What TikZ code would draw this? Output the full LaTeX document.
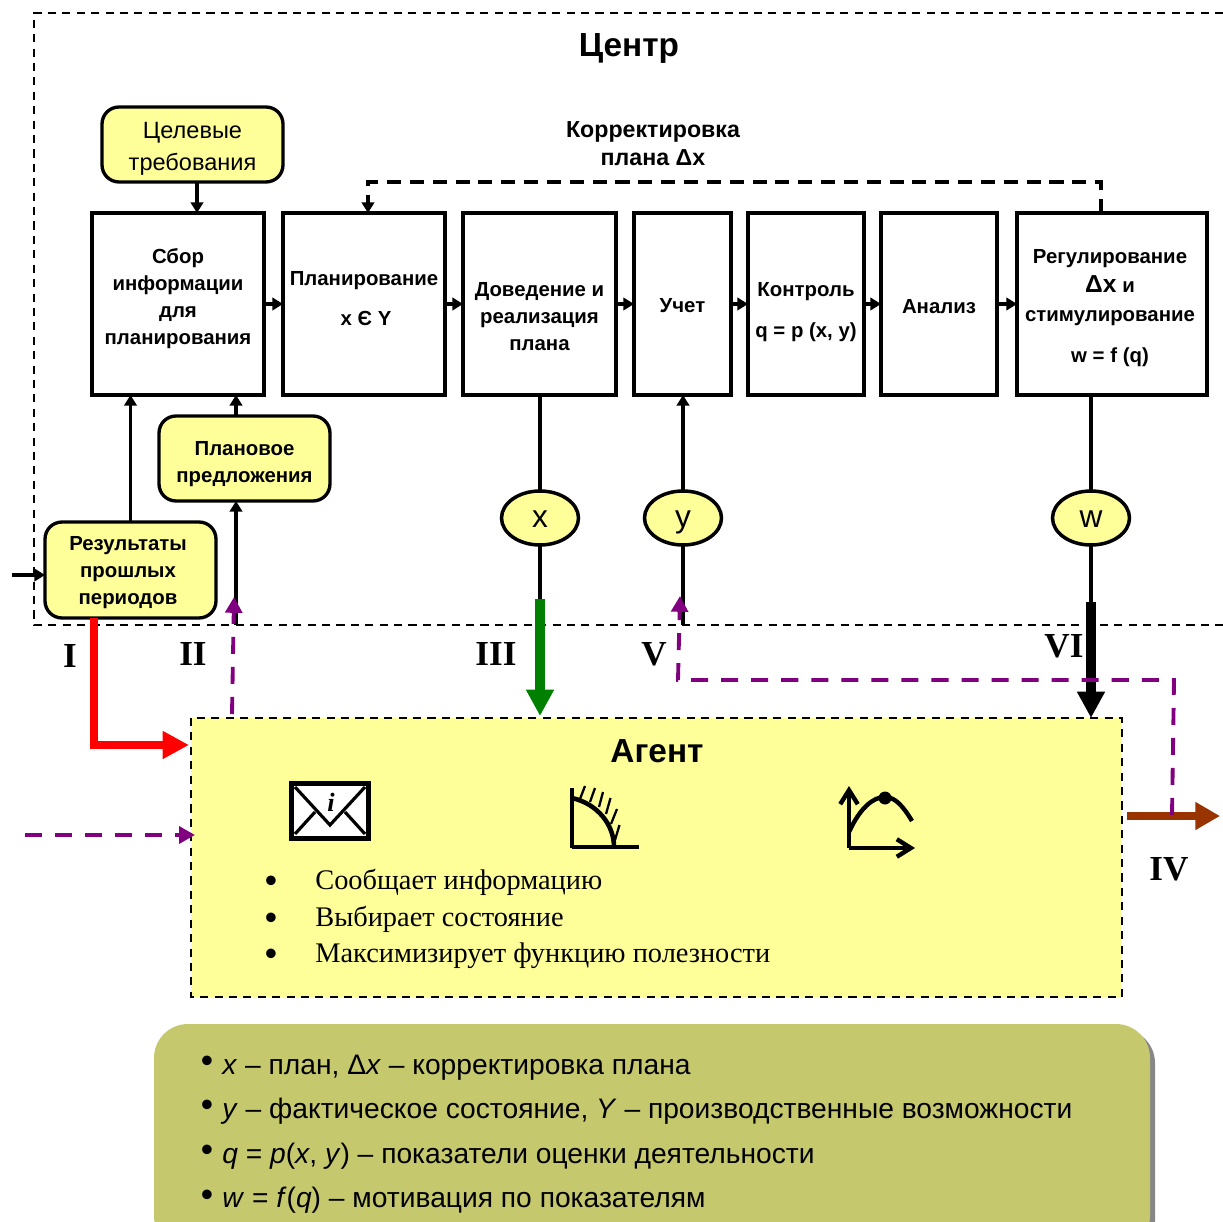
\documentclass[tikz,border=0pt]{standalone}
\usepackage{fontspec}
\setmainfont{Liberation Sans}
\newfontfamily\timesfont{Liberation Serif}
\usetikzlibrary{arrows.meta,calc,shapes.geometric}
\definecolor{boxyellow}{HTML}{FFFF99}
\definecolor{legendgreen}{HTML}{C6C86E}
\definecolor{arrowpurple}{HTML}{800080}
\definecolor{arrowbrown}{HTML}{993300}
\definecolor{arrowgreen}{HTML}{008000}
\tikzset{
	procbox/.style={draw, line width=1.85pt, inner sep=0, outer sep=0, minimum height=3.64cm},
	softbox/.style={draw, line width=1.9pt, rounded corners=0.34cm, fill=boxyellow, inner sep=0, outer sep=0},
	statenode/.style={draw, ellipse, line width=2pt, fill=boxyellow, inner sep=0, outer sep=0, minimum width=1.54cm, minimum height=1.08cm, text height=13pt, text depth=2pt, font=\fontsize{18}{20}\selectfont},
	boxtext/.style={align=center, inner sep=0, font=\bfseries\fontsize{11.6}{15.4}\selectfont},
	softtext/.style={align=center, inner sep=0, font=\fontsize{13.4}{18}\selectfont},
	romantext/.style={inner sep=0, font=\timesfont\bfseries\fontsize{20}{24}\selectfont},
	titletext/.style={inner sep=0, font=\bfseries\fontsize{19}{23}\selectfont},
	agenttext/.style={anchor=west, inner sep=0, font=\timesfont\fontsize{16.15}{20}\selectfont},
	legendtext/.style={anchor=west, inner sep=0, font=\fontsize{16.05}{20}\selectfont},
	dotmark/.style={inner sep=0, font=\fontsize{20}{20}\selectfont},
	frameline/.style={line width=1.1pt, dash pattern=on 4.6pt off 3.6pt},
	blackline/.style={line width=2pt},
	smallarrow/.style={blackline, -{Triangle[length=6pt,width=7pt]}},
	purplearrow/.style={line width=2.2pt, color=arrowpurple, dash pattern=on 9.7pt off 7.4pt, -{Triangle[length=9pt,width=9.5pt]}},
	bigarrow/.style={line width=5.2pt, -{Triangle[length=15pt,width=15pt]}}
}

\begin{document}
\begin{tikzpicture}[x=0.02cm, y=-0.02cm]
	\useasboundingbox (0, 0) rectangle (1223, 1222);
	
	%%%%% frames %%%%%
	\draw[frameline] (1223, 13) -- (34, 13) -- (34, 625) -- (1223, 625);
	\draw[frameline, fill=boxyellow] (191, 718) rectangle (1122, 997);
	
	\node[titletext] (center) at (629, 48) {Центр};
	\node[titletext] (agent) at (657, 751) {Агент};
	\node[boxtext, font=\bfseries\fontsize{13.2}{16}\selectfont] (correction) at (653, 144) {Корректировка\\плана Δx};
	
	%%%%% blocks %%%%%
	\node[softbox, minimum width=3.62cm, minimum height=1.5cm] (goals) at (192.5, 144.5) {};
	\node[softtext] (goalstext) at (192.5, 149) {Целевые\\требования};
	
	\node[procbox, minimum width=3.44cm] (collect) at (178, 304) {};
	\node[boxtext] (collecttext) at (178, 299) {Сбор\\информации\\для\\планирования};
	
	\node[procbox, minimum width=3.24cm] (plan) at (364, 304) {};
	\node[boxtext] (plantext) at (364, 298.5) {Планирование\\[7pt]\hspace*{2.3pt}x Є Y};
	
	\node[procbox, minimum width=3.06cm] (deliver) at (539.5, 304) {};
	\node[boxtext] (delivertext) at (539.5, 317) {Доведение и\\реализация\\плана};
	
	\node[procbox, minimum width=1.94cm] (account) at (682.5, 304) {};
	\node[boxtext] (accounttext) at (682.5, 306) {Учет};
	
	\node[procbox, minimum width=2.32cm] (control) at (806, 304) {};
	\node[boxtext] (controltext) at (806, 312) {Контроль\\[8pt]q = p (x, y)};
	
	\node[procbox, minimum width=2.32cm] (analysis) at (939, 304) {};
	\node[boxtext] (analysistext) at (939, 307) {Анализ};
	
	\node[procbox, minimum width=3.8cm] (regulate) at (1112, 304) {};
	\node[boxtext] (regulatetext) at (1110, 308) {Регулирование\\[1pt]{\fontsize{14}{16}\selectfont Δx} и\\[1pt]стимулирование\\[7.8pt]w = f (q)};
	
	\node[softbox, minimum width=3.42cm, minimum height=1.7cm] (offer) at (244.5, 458.5) {};
	\node[boxtext] (offertext) at (244.5, 464) {Плановое\\предложения};
	
	\node[softbox, minimum width=3.42cm, minimum height=1.92cm] (results) at (130.5, 570) {};
	\node[boxtext] (resultstext) at (128, 573) {Результаты\\прошлых\\периодов};
	
	\node[statenode] (statex) at (540, 518) {x};
	\node[statenode] (statey) at (683, 518) {y};
	\node[statenode] (statew) at (1091, 518) {w};
	
	%%%%% connectors %%%%%
	\draw[smallarrow] (collect) -- (plan);
	\draw[smallarrow] (plan) -- (deliver);
	\draw[smallarrow] (deliver) -- (account);
	\draw[smallarrow] (account) -- (control);
	\draw[smallarrow] (control) -- (analysis);
	\draw[smallarrow] (analysis) -- (regulate);
	\draw[smallarrow] ([xshift=0.09cm]goals.south) -- ([xshift=0.09cm]goals.south |- collect.north);
	\draw[smallarrow] (results.north) -- (results.north |- collect.south);
	\draw[smallarrow] ([xshift=-0.17cm]offer.north) -- ([xshift=-0.17cm]offer.north |- collect.south);
	
	\coordinate (offerfeed) at (236, 625);
	\draw[smallarrow] (offerfeed) -- (offerfeed |- offer.south);
	\coordinate (resultsfeed) at (12, 575);
	\draw[smallarrow] (resultsfeed) -- (resultsfeed -| results.west);
	
	\draw[line width=1.8pt, dash pattern=on 8pt off 5pt, -{Triangle[length=6pt,width=7pt]}] ([xshift=-0.22cm]regulate.north) |- (368, 182) -- (368, 213);
	
	\draw[blackline] (deliver.south -| statex) -- (statex);
	\draw[blackline] (statex) -- (540, 605);
	\draw[smallarrow] (statey) -- (statey |- account.south);
	\draw[blackline] (statey) -- (683, 625);
	\draw[blackline] (regulate.south -| statew) -- (statew);
	\draw[blackline] (statew) -- (1091, 605);
	
	%%%%% thick arrows %%%%%
	\draw[bigarrow, color=arrowgreen] (540, 599) -- (540, 716);
	\draw[bigarrow] (1091, 602) -- (1091, 718);
	\draw[line width=4.6pt, color=red, -{Triangle[length=15pt,width=15pt]}] (94, 618) -- (94, 745) -- (189, 745);
	\draw[line width=5pt, color=arrowbrown, -{Triangle[length=14pt,width=15pt]}] (1127, 816) -- (1220, 816);
	
	%%%%% dashed feedback %%%%%
	\draw[purplearrow] (232, 714) -- (234, 597);
	\draw[purplearrow] (1172, 815) -- (1174, 680) -- (678, 680) -- (680, 596);
	\draw[purplearrow] (25, 835) -- (195, 835);
	
	\node[romantext] (romanone) at (70, 656) {I};
	\node[romantext] (romantwo) at (193, 654) {II};
	\node[romantext] (romanthree) at (496, 654) {III};
	\node[romantext] (romanfive) at (654, 654) {V};
	\node[romantext] (romansix) at (1064, 646) {VI};
	\node[romantext] (romanfour) at (1169, 869) {IV};
	
	%%%%% agent icons %%%%%
	\draw[line width=3pt, fill=white] (291.5, 783.5) rectangle (368.5, 838.5);
	\draw[line width=1.8pt] (295, 787) -- (330, 825) -- (365, 787);
	\draw[line width=1.8pt] (295, 834) -- (315, 812);
	\draw[line width=1.8pt] (365, 834) -- (345, 812);
	\node[inner sep=0, font=\timesfont\bfseries\itshape\fontsize{15}{15}\selectfont] (info) at (331, 802) {i};
	
	\draw[line width=2.5pt] (572, 788) -- (572, 848);
	\draw[line width=2.5pt] (572, 847) -- (639, 847);
	\draw[line width=2.6pt] (572, 798) .. controls (598, 804) and (614, 825) .. (614, 847);
	\draw[line width=1.3pt] (580, 799) -- (585, 786);
	\draw[line width=1.3pt] (590, 802) -- (595, 788);
	\draw[line width=1.3pt] (599, 807) -- (603, 792);
	\draw[line width=1.3pt] (606, 814) -- (610.5, 798);
	\draw[line width=1.3pt] (611, 824) -- (617, 809);
	\draw[line width=1.3pt] (615, 840) -- (619.5, 825);
	
	\draw[line width=2.5pt, -{Straight Barb[length=8pt,width=10pt]}] (849, 848) -- (849, 786);
	\draw[line width=2.5pt, -{Straight Barb[length=8pt,width=10pt]}] (849, 848) -- (915, 848);
	\draw[line width=2.5pt] (849, 832) .. controls (860, 808) and (873, 797) .. (885, 797) .. controls (895, 797) and (903, 806) .. (912, 821);
	\fill (885, 798) circle (6.5);
	
	%%%%% agent list %%%%%
	\node[dotmark] (agentdotone) at (271, 884) {•};
	\node[agenttext] (agentone) at (315, 882) {Сообщает информацию};
	\node[dotmark] (agentdottwo) at (271, 921) {•};
	\node[agenttext] (agenttwo) at (315, 919) {Выбирает состояние};
	\node[dotmark] (agentdotthree) at (271, 957) {•};
	\node[agenttext] (agentthree) at (315, 956) {Максимизирует функцию полезности};
	
	%%%%% legend %%%%%
	\fill[color=black!47, rounded corners=0.68cm] (159, 1029) rectangle (1155, 1255);
	\fill[color=legendgreen, rounded corners=0.68cm] (154, 1024) rectangle (1150, 1250);
	\node[dotmark] (legenddotone) at (207, 1064) {•};
	\node[legendtext] (legendone) at (222, 1068) {\textit{x} – план, Δ\textit{x} – корректировка плана};
	\node[dotmark] (legenddottwo) at (207, 1108) {•};
	\node[legendtext] (legendtwo) at (222, 1111) {\textit{y} – фактическое состояние, \textit{Y} – производственные возможности};
	\node[dotmark] (legenddotthree) at (207, 1153) {•};
	\node[legendtext] (legendthree) at (222, 1156) {\textit{q} = \textit{p}(\textit{x}, \textit{y}) – показатели оценки деятельности};
	\node[dotmark] (legenddotfour) at (207, 1198) {•};
	\node[legendtext] (legendfour) at (222, 1200) {\textit{w} = \textit{f}(\textit{q}) – мотивация по показателям};
\end{tikzpicture}
\end{document}
